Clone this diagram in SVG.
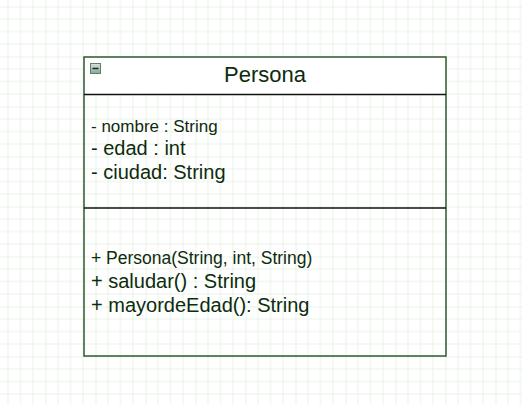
<svg xmlns="http://www.w3.org/2000/svg" width="522" height="405" viewBox="0 0 522 405">
  <defs>
    <pattern id="grid" patternUnits="userSpaceOnUse" x="45.5" y="6.5" width="50" height="50">
      <path d="M12.5 0V50M25 0V50M37.5 0V50M0 12.5H50M0 25H50M0 37.5H50" stroke="#e9f3e9" stroke-width="1" fill="none"/>
      <path d="M0 0V50M0 0H50" stroke="#d3e7d3" stroke-width="1" fill="none"/>
    </pattern>
    <linearGradient id="iconGrad" x1="0" y1="0" x2="0" y2="1">
      <stop offset="0" stop-color="#d8e4dc"/>
      <stop offset="1" stop-color="#8aa595"/>
    </linearGradient>
  </defs>
  <style>
    .t { font-family: "Liberation Sans", Arial, sans-serif; fill: #0d2b0d; }
    .sep { stroke: #111; stroke-width: 1.5; }
  </style>
  <rect width="522" height="405" fill="#ffffff"/>
  <rect width="522" height="405" fill="url(#grid)"/>
  <g id="connectors"/>
  <g id="persona">
    <rect x="84" y="57" width="362" height="37" fill="#ffffff"/>
    <rect x="84" y="57" width="362" height="299" fill="none" stroke="#2d5a2d" stroke-width="1.5"/>
    <line class="sep" x1="84" y1="94.5" x2="446" y2="94.5"/>
    <line class="sep" x1="84" y1="208" x2="446" y2="208"/>
    <g id="collapse-icon">
      <rect x="90.5" y="63.5" width="10" height="10" fill="url(#iconGrad)" stroke="#5f7f6f" stroke-width="1"/>
      <line x1="92.5" y1="68.5" x2="98.5" y2="68.5" stroke="#1a2a1a" stroke-width="1.5"/>
    </g>
    <text class="t" x="265" y="82" font-size="22" text-anchor="middle">Persona</text>
    <text class="t" x="91" y="132" font-size="17">- nombre : String</text>
    <text class="t" x="91" y="155" font-size="20">- edad : int</text>
    <text class="t" x="91" y="179" font-size="20">- ciudad: String</text>
    <text class="t" x="91" y="264" font-size="17.5">+ Persona(String, int, String)</text>
    <text class="t" x="91" y="287.5" font-size="20">+ saludar() : String</text>
    <text class="t" x="91" y="311.5" font-size="20">+ mayordeEdad(): String</text>
  </g>
</svg>
